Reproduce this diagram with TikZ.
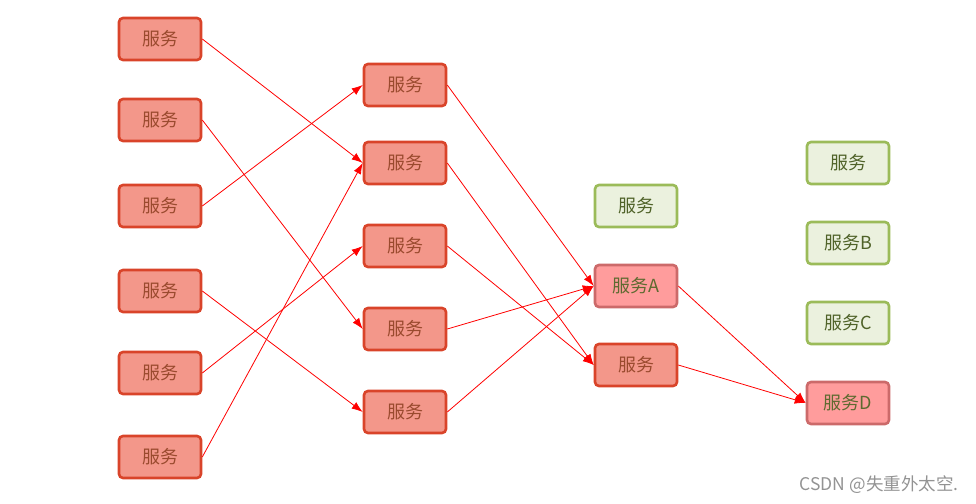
\documentclass[tikz,border=0pt]{standalone}
\usepackage{fontspec}
\setmainfont{Noto Sans CJK SC}
\usetikzlibrary{arrows.meta}
\definecolor{rf}{HTML}{F3978A}\definecolor{rd}{HTML}{D9442A}\definecolor{rt}{HTML}{9A4A2E}
\definecolor{pf}{HTML}{FF9C9C}\definecolor{pd}{HTML}{CC6A6A}\definecolor{pt}{HTML}{5E6A30}
\definecolor{gf}{HTML}{EBF1DE}\definecolor{gd}{HTML}{9BBB59}\definecolor{gt}{HTML}{4F6228}
\begin{document}
\begin{tikzpicture}[x=1pt,y=-1pt,
 box/.style={rounded corners=4pt,line width=2.6pt,minimum width=82pt,minimum height=42pt,font=\fontsize{18}{18}\selectfont,inner sep=0pt},
 red/.style={box,fill=rf,draw=rd,text=rt},
 pink/.style={box,fill=pf,draw=pd,text=pt},
 grn/.style={box,fill=gf,draw=gd,text=gt},
 ar/.style={draw=red,line width=0.8pt,-{Latex[length=11pt,width=8pt]}}]
\useasboundingbox (0,0) rectangle (976,503);
\foreach \n/\y in {1/39,2/120,3/206,4/291,5/373,6/457}{\node[red] (a\n) at (160,\y) {服务};}
\foreach \n/\y in {1/85,2/163,3/246,4/329,5/412}{\node[red] (b\n) at (405,\y) {服务};}
\node[grn] (c1) at (636,206) {服务};
\node[pink] (cA) at (636,286) {服务A};
\node[red] (c3) at (636,365) {服务};
\node[grn] (d1) at (848,163) {服务};
\node[grn] (d2) at (848,243) {服务B};
\node[grn] (d3) at (848,323) {服务C};
\node[pink] (dD) at (848,403) {服务D};
\draw[ar] (a1.east) -- (b2.west);
\draw[ar] (a2.east) -- (b4.west);
\draw[ar] (a3.east) -- (b1.west);
\draw[ar] (a4.east) -- (b5.west);
\draw[ar] (a5.east) -- (b3.west);
\draw[ar] (a6.east) -- (b2.west);
\draw[ar] (b1.east) -- (cA.west);
\draw[ar] (b2.east) -- (c3.west);
\draw[ar] (b3.east) -- (c3.west);
\draw[ar] (b4.east) -- (cA.west);
\draw[ar] (b5.east) -- (cA.west);
\draw[ar] (cA.east) -- (dD.west);
\draw[ar] (c3.east) -- (dD.west);
\node[text=gray!85,font=\fontsize{17.5}{17.5}\selectfont,anchor=east] (wm) at (962,485) {CSDN @失重外太空.};
\end{tikzpicture}
\end{document}
